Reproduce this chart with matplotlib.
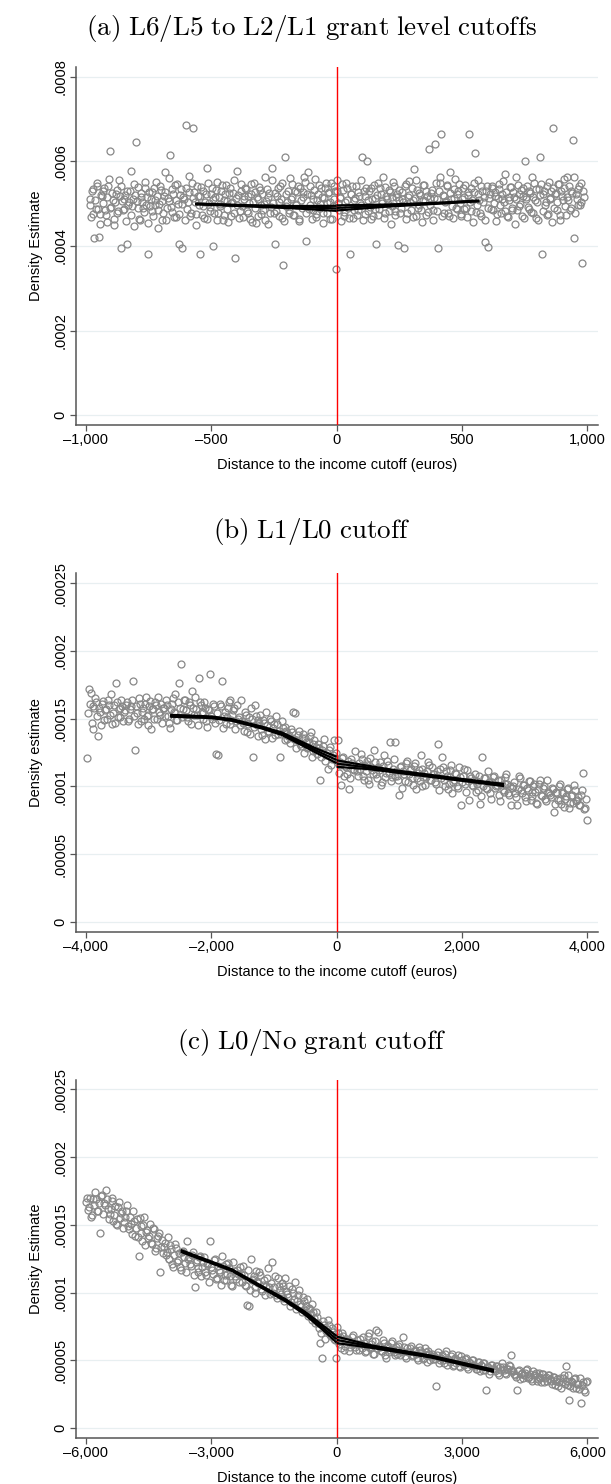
import matplotlib.pyplot as plt
import numpy as np

plt.rcParams['font.family'] = ['Liberation Sans', 'DejaVu Sans']
plt.rcParams['mathtext.fontset'] = 'cm'

# Histogram points are read off the figure as two interleaved lists:
# *_even are bins 0,2,4,... and *_odd the bins in between (1,3,5,...).

# ---- (a) L6/L5 .. L2/L1 cutoffs: bin centres -985..985 euros, density x1e-6
a_bins = (-985, 985)
a_dens_even = [
    512, 468, 535, 418, 488, 548, 422, 476, 519, 530, 485, 457, 541, 625, 492, 508, 463, 524, 479, 555,
    395, 506, 487, 520, 405, 498, 531, 474, 512, 546, 645, 490, 463, 525, 503, 481, 538, 516, 380, 495,
    527, 470, 508, 551, 486, 499, 533, 462, 518, 574, 491, 507, 615, 480, 522, 545, 468, 500, 405, 534,
    395, 512, 685, 488, 528, 470, 549, 680, 503, 476, 519, 380, 540, 494, 466, 523, 585, 501, 482, 537,
    400, 517, 552, 478, 495, 530, 461, 509, 544, 487, 526, 472, 503, 556, 372, 498, 521, 483, 547, 468,
    511, 535, 479, 502, 524, 457, 548, 490, 516, 470, 533, 498, 484, 562, 507, 451, 526, 493, 585, 478,
    405, 519, 503, 541, 467, 355, 610, 494, 529, 485, 512, 546, 473, 500, 527, 460, 538, 489, 515, 552,
    412, 575, 497, 521, 484, 533, 468, 509, 545, 490, 516, 477, 538, 502, 526, 463, 549, 495, 512, 345,
    529, 486, 513, 547, 472, 505, 538, 491, 380, 522, 466, 509, 543, 484, 518, 497, 610, 531, 475, 600,
    508, 492, 536, 470, 514, 405, 548, 487, 523, 501, 466, 539, 510, 483, 527, 495, 552, 474, 517, 402,
    532, 489, 511, 395, 546, 478, 520, 503, 538, 468, 514, 557, 491, 526, 484, 509, 544, 473, 519, 630,
    498, 533, 486, 640, 512, 395, 548, 665, 521, 479, 506, 541, 470, 525, 494, 513, 558, 487, 530, 502,
    471, 536, 515, 490, 527, 665, 483, 509, 550, 620, 496, 522, 478, 541, 505, 410, 529, 398, 514, 488,
    543, 502, 519, 475, 535, 496, 511, 553, 482, 527, 469, 508, 540, 491, 517, 563, 486, 524, 500, 472,
    538, 600, 510, 493, 529, 481, 515, 548, 467, 505, 535, 610, 380, 522, 497, 541, 476, 513, 530, 680,
    489, 526, 504, 547, 473, 518, 536, 495, 562, 509, 484, 531, 650, 418, 522, 498, 543, 505, 360, 517,
]
a_dens_odd = [
    497, 531, 476, 509, 543, 488, 452, 520, 501, 537, 473, 515, 558, 491, 526, 449, 504, 533, 482, 518,
    541, 486, 512, 458, 529, 503, 577, 494, 448, 521, 507, 539, 462, 515, 489, 552, 498, 454, 527, 510,
    483, 536, 497, 519, 442, 541, 506, 478, 528, 461, 514, 560, 493, 535, 468, 509, 546, 475, 521, 499,
    517, 462, 538, 503, 566, 479, 514, 527, 450, 542, 497, 518, 473, 531, 505, 464, 550, 492, 524, 511,
    478, 532, 461, 516, 499, 545, 473, 522, 506, 457, 537, 501, 526, 478, 513, 578, 466, 530, 495, 519,
    536, 482, 518, 465, 547, 503, 528, 454, 511, 540, 476, 523, 499, 461, 534, 515, 478, 556, 502, 526,
    483, 537, 471, 512, 548, 460, 524, 505, 479, 560, 517, 473, 531, 496, 542, 465, 509, 528, 563, 477,
    524, 488, 543, 463, 511, 559, 476, 522, 500, 537, 455, 514, 550, 478, 527, 505, 465, 541, 531, 556,
    501, 517, 458, 532, 480, 549, 508, 466, 523, 541, 485, 513, 474, 528, 502, 557, 461, 519, 538, 482,
    529, 464, 512, 545, 487, 521, 473, 537, 506, 562, 478, 519, 500, 533, 451, 516, 542, 482, 524, 508,
    477, 527, 503, 541, 464, 516, 553, 485, 509, 583, 470, 532, 498, 521, 456, 545, 507, 529, 480, 514,
    526, 461, 513, 548, 483, 530, 562, 472, 519, 505, 544, 478, 575, 510, 466, 535, 489, 523, 547, 475,
    512, 487, 544, 468, 520, 503, 537, 456, 528, 481, 557, 509, 472, 530, 515, 461, 543, 490, 524, 536,
    485, 528, 460, 513, 547, 478, 524, 503, 571, 472, 516, 539, 484, 527, 451, 511, 545, 495, 532, 519,
    467, 516, 542, 488, 525, 563, 477, 509, 534, 462, 520, 547, 483, 529, 505, 473, 552, 511, 456, 538,
    522, 485, 547, 461, 530, 508, 559, 474, 517, 541, 489, 526, 563, 479, 512, 534, 497, 548, 529,
]
a_scale = 1e-6
# local polynomial fit, left and right of the cutoff (x1e-6), with CI half-width
a_left_x = [-564, -350, -166, 0]
a_left_est = [499.5, 495.0, 491.7, 489.0]
a_left_ci = [1.0, 1.5, 2.8, 6.0]
a_right_x = [0, 200, 400, 569]
a_right_est = [490.0, 495.5, 501.0, 506.6]
a_right_ci = [6.0, 2.5, 1.2, 1.0]

# ---- (b) L1/L0 cutoff: bin centres -3985..3985 euros, density x1e-7
b_bins = (-3985, 3985)
b_dens_even = [
    1210, 1720, 1690, 1420, 1580, 1620, 1370, 1550, 1610, 1490, 1570, 1640, 1530, 1460, 1600, 1760, 1510, 1580, 1640, 1480,
    1560, 1620, 1500, 1590, 1780, 1270, 1540, 1650, 1480, 1580, 1610, 1520, 1450, 1630, 1570, 1500, 1600, 1660, 1530, 1470,
    1580, 1640, 1520, 1430, 1610, 1550, 1680, 1490, 1760, 1900, 1570, 1640, 1510, 1620, 1460, 1580, 1660, 1530, 1800, 1600,
    1540, 1620, 1480, 1570, 1830, 1500, 1590, 1240, 1230, 1610, 1780, 1520, 1460, 1580, 1640, 1490, 1560, 1420, 1600, 1510,
    1640, 1470, 1550, 1400, 1510, 1580, 1220, 1600, 1450, 1490, 1530, 1380, 1470, 1550, 1410, 1500, 1360, 1460, 1520, 1390,
    1220, 1480, 1400, 1440, 1350, 1380, 1420, 1550, 1545, 1340, 1410, 1300, 1390, 1360, 1280, 1330, 1400, 1260, 1340, 1290,
    1310, 1050, 1270, 1350, 1230, 1130, 1290, 1200, 1340, 1250, 1340, 1180, 1010, 1220, 1150, 1090, 980, 1200, 1130, 1260,
    1110, 1170, 1240, 1080, 1150, 1190, 1050, 1210, 1120, 1270, 1090, 1140, 1180, 1030, 1230, 1100, 1160, 1330, 1070, 1200,
    1330, 1080, 935, 1150, 1110, 1040, 1190, 1090, 1130, 1010, 1170, 1060, 1120, 1230, 1000, 1100, 1070, 1180, 1050, 1140,
    1090, 1020, 1310, 1130, 1220, 1050, 1110, 980, 1070, 1160, 1030, 1100, 1000, 1140, 860, 1080, 1020, 1120, 900, 1060,
    1000, 1090, 1040, 970, 870, 1220, 1060, 990, 1110, 950, 1030, 1080, 1000, 1050, 895, 1010, 960, 1070, 1020, 940,
    860, 1000, 950, 860, 1080, 970, 1010, 920, 990, 1040, 900, 960, 1020, 880, 980, 1050, 930, 1000, 890, 960,
    940, 990, 810, 960, 900, 1020, 870, 950, 910, 980, 840, 930, 880, 970, 900, 860, 940, 1100, 840, 750,
]
b_dens_odd = [
    1540, 1610, 1470, 1590, 1650, 1520, 1580, 1450, 1630, 1560, 1500, 1600, 1680, 1540, 1470, 1620, 1570, 1510, 1590, 1550,
    1600, 1480, 1570, 1640, 1520, 1590, 1460, 1610, 1550, 1500, 1660, 1530, 1590, 1420, 1570, 1620, 1500, 1550, 1610, 1580,
    1520, 1600, 1470, 1570, 1650, 1540, 1490, 1620, 1580, 1510, 1640, 1560, 1480, 1600, 1700, 1530, 1570, 1450, 1620, 1550,
    1500, 1580, 1440, 1560, 1520, 1610, 1470, 1540, 1490, 1590, 1430, 1550, 1510, 1620, 1460, 1530, 1580, 1480, 1500, 1450,
    1480, 1410, 1530, 1460, 1390, 1500, 1440, 1520, 1370, 1470, 1420, 1490, 1350, 1450, 1400, 1480, 1430, 1380, 1460, 1410,
    1390, 1430, 1340, 1410, 1370, 1320, 1400, 1350, 1280, 1380, 1310, 1360, 1250, 1330, 1290, 1370, 1220, 1310, 1270, 1240,
    1280, 1220, 1300, 1190, 1250, 1270, 1160, 1230, 1210, 1180, 1100, 1160, 1210, 1080, 1140, 1190, 1060, 1170, 1120, 1150,
    1080, 1130, 1200, 1050, 1110, 1160, 1020, 1140, 1090, 1180, 1060, 1120, 1010, 1150, 1070, 1190, 1100, 1040, 1130, 1080,
    1110, 1050, 1140, 990, 1090, 1170, 1030, 1120, 1060, 1150, 980, 1100, 1040, 1130, 1070, 1010, 1110, 1160, 1050, 1090,
    1030, 1110, 970, 1060, 1140, 1000, 1080, 1020, 1120, 950, 1050, 1090, 990, 1070, 1030, 1130, 960, 1040, 1080, 1010,
    1050, 960, 1020, 1080, 930, 1000, 1060, 980, 1030, 910, 1070, 990, 1010, 940, 1050, 970, 1020, 1090, 950, 1000,
    990, 1030, 920, 980, 1060, 950, 1010, 890, 970, 1040, 930, 1000, 960, 870, 1020, 940, 990, 910, 1050, 950,
    920, 980, 870, 950, 1000, 900, 960, 850, 930, 990, 880, 940, 1010, 890, 920, 860, 970, 830, 910,
]
b_scale = 1e-7
b_left_x = [-2655, -2000, -1672, -1200, -875, -345, 0]
b_left_est = [1521, 1510, 1490, 1435, 1389, 1268, 1195]
b_left_ci = [7, 6, 6, 7, 9, 15, 24]
b_right_x = [0, 500, 980, 2000, 2670]
b_right_est = [1168, 1140, 1108, 1048, 1010]
b_right_ci = [24, 12, 8, 7, 8]

# ---- (c) L0/No grant cutoff: bin centres -5985..5985 euros, density x1e-7
c_bins = (-5985, 5985)
c_dens_even = [
    1670, 1610, 1700, 1570, 1650, 1690, 1600, 1440, 1720, 1660, 1760, 1620, 1580, 1700, 1530, 1640, 1500, 1670, 1590, 1480,
    1560, 1650, 1470, 1510, 1600, 1420, 1540, 1270, 1490, 1380, 1560, 1450, 1400, 1510, 1360, 1470, 1330, 1420, 1150, 1390,
    1340, 1280, 1410, 1250, 1320, 1190, 1360, 1230, 1290, 1170, 1310, 1220, 1380, 1260, 1200, 1300, 1040, 1240, 1150, 1270,
    1190, 1260, 1130, 1220, 1380, 1170, 1240, 1100, 1200, 1150, 1270, 1090, 1210, 1140, 1180, 1060, 1230, 1120, 1170, 1080,
    1140, 1200, 1060, 910, 900, 1250, 1100, 1040, 1160, 1070, 1130, 1010, 1090, 1050, 1180, 990, 1230, 1040, 980, 1110,
    1020, 1070, 960, 1110, 990, 1050, 930, 1000, 1080, 940, 1020, 900, 970, 870, 950, 890, 840, 920, 810, 860,
    780, 630, 520, 760, 720, 800, 690, 740, 660, 520, 700, 640, 590, 680, 610, 660, 570, 630, 690, 600,
    650, 580, 620, 670, 560, 610, 700, 590, 640, 550, 725, 710, 600, 570, 630, 520, 610, 580, 640, 560,
    600, 550, 620, 570, 676, 530, 590, 560, 610, 540, 580, 520, 600, 560, 510, 590, 540, 570, 500, 550,
    530, 314, 560, 500, 540, 480, 570, 510, 490, 550, 470, 520, 500, 460, 530, 480, 510, 450, 490, 470,
    500, 460, 440, 490, 470, 430, 480, 285, 450, 420, 470, 440, 460, 410, 450, 480, 430, 400, 440, 460,
    543, 420, 390, 280, 430, 400, 370, 410, 440, 380, 360, 420, 390, 350, 410, 370, 400, 340, 380, 390,
    360, 330, 380, 350, 310, 370, 340, 390, 462, 320, 211, 350, 300, 370, 330, 290, 187, 340, 267, 350,
]
c_dens_odd = [
    1700, 1630, 1560, 1690, 1740, 1600, 1660, 1710, 1580, 1650, 1690, 1540, 1620, 1680, 1570, 1510, 1630, 1550, 1600, 1520,
    1600, 1490, 1560, 1430, 1530, 1480, 1410, 1550, 1440, 1500, 1350, 1460, 1420, 1370, 1480, 1310, 1400, 1440, 1340, 1290,
    1370, 1300, 1250, 1350, 1210, 1280, 1330, 1240, 1190, 1300, 1260, 1150, 1250, 1210, 1280, 1130, 1230, 1180, 1260, 1120,
    1230, 1150, 1210, 1080, 1190, 1140, 1250, 1110, 1170, 1060, 1200, 1130, 1090, 1220, 1120, 1050, 1160, 1100, 1140, 1190,
    1080, 1130, 1050, 1170, 1020, 1090, 1120, 1000, 1080, 1150, 1030, 1060, 980, 1110, 1040, 1070, 1000, 1120, 960, 1050,
    990, 1050, 940, 1010, 970, 900, 1030, 950, 880, 980, 920, 860, 940, 900, 830, 880, 800, 860, 780, 820,
    740, 700, 790, 660, 730, 760, 680, 710, 650, 750, 620, 670, 700, 580, 640, 650, 600, 670, 620, 580,
    620, 660, 590, 630, 570, 680, 600, 620, 550, 640, 590, 610, 570, 650, 540, 600, 560, 630, 580, 540,
    580, 610, 540, 570, 600, 520, 560, 590, 530, 570, 550, 500, 580, 540, 520, 560, 490, 550, 530, 510,
    510, 540, 480, 520, 500, 550, 470, 500, 530, 460, 510, 480, 540, 450, 500, 470, 520, 440, 480, 500,
    470, 440, 490, 420, 460, 480, 430, 450, 400, 470, 440, 420, 460, 390, 430, 450, 410, 440, 470, 420,
    430, 400, 380, 420, 360, 410, 390, 430, 370, 400, 350, 390, 410, 360, 380, 340, 400, 370, 350, 390,
    350, 380, 320, 360, 340, 300, 370, 330, 350, 390, 310, 340, 360, 300, 330, 370, 320, 280, 340,
]
c_scale = 1e-7
c_left_x = [-3727, -2508, -1234, -755, -357, 0]
c_left_est = [1308, 1167, 946, 848, 749, 656]
c_left_ci = [7, 6, 8, 11, 16, 24]
c_right_x = [0, 838, 2273, 3763]
c_right_est = [652, 602, 528, 423]
c_right_ci = [24, 9, 7, 8]

titles = [
    r'$\mathrm{(a)\ L6/L5\ to\ L2/L1\ grant\ level\ cutoffs}$',
    r'$\mathrm{(b)\ L1/L0\ cutoff}$',
    r'$\mathrm{(c)\ L0/No\ grant\ cutoff}$',
]
ylabels = ['Density Estimate', 'Density estimate', 'Density Estimate']
xlabel = 'Distance to the income cutoff (euros)'

a_xticks = [-1000, -500, 0, 500, 1000]
a_xticklabels = ['\u20131,000', '\u2013500', '0', '500', '1,000']
b_xticks = [-4000, -2000, 0, 2000, 4000]
b_xticklabels = ['\u20134,000', '\u20132,000', '0', '2,000', '4,000']
c_xticks = [-6000, -3000, 0, 3000, 6000]
c_xticklabels = ['\u20136,000', '\u20133,000', '0', '3,000', '6,000']
a_yticks = [0, 0.0002, 0.0004, 0.0006, 0.0008]
a_yticklabels = ['0', '.0002', '.0004', '.0006', '.0008']
bc_yticks = [0, 0.00005, 0.0001, 0.00015, 0.0002, 0.00025]
bc_yticklabels = ['0', '.00005', '.0001', '.00015', '.0002', '.00025']

W, H = 611, 1484
GRID = '#e8eff1'
AXIS = '#555555'


def interleave(even, odd):
    full = np.empty(len(even) + len(odd))
    full[0::2] = even
    full[1::2] = odd
    return full


def draw_panel(ax, bins, dens, scale, fits, xticks, xticklabels,
               yticks, yticklabels, xlim, ylim, ylabel):
    xs = np.linspace(bins[0], bins[1], len(dens))
    ys = np.asarray(dens, dtype=float) * scale
    for y in yticks:
        ax.axhline(y, color=GRID, lw=0.9, zorder=0)
    ax.plot(xs, ys, ls='none', marker='o', ms=5.0, mfc='none',
            mec='#888888', mew=0.9, zorder=2)
    ax.axvline(0, color='#ff0000', lw=1.0, zorder=3)
    for fx, fy, fci in fits:
        fy = np.asarray(fy, dtype=float)
        fci = np.asarray(fci, dtype=float)
        for k in (-1, 0, 1):
            ax.plot(fx, (fy + k * fci) * scale, color='black', lw=1.6,
                    solid_capstyle='butt', zorder=4)
    ax.set_xlim(*xlim)
    ax.set_ylim(*ylim)
    ax.set_xticks(xticks)
    ax.set_xticklabels(xticklabels)
    ax.set_yticks(yticks)
    ax.set_yticklabels(yticklabels, rotation=90, va='center')
    for s in ('top', 'right'):
        ax.spines[s].set_visible(False)
    for s in ('left', 'bottom'):
        ax.spines[s].set_color(AXIS)
        ax.spines[s].set_linewidth(1.1)
    ax.tick_params(length=4, width=0.9, color=AXIS, labelsize=10.5, pad=2)
    ax.set_xlabel(xlabel, fontsize=10.5, labelpad=8)
    ax.set_ylabel(ylabel, fontsize=10.5, labelpad=8)


fig = plt.figure(figsize=(W / 100, H / 100), dpi=100)

# axes boxes in pixels: (top, bottom)
boxes = [(67, 425), (573, 932), (1080, 1438)]
left_px, right_px = 76, 598
title_y = [28, 532, 1042]

panels = [
    (a_bins, interleave(a_dens_even, a_dens_odd), a_scale,
     [(a_left_x, a_left_est, a_left_ci), (a_right_x, a_right_est, a_right_ci)],
     a_xticks, a_xticklabels, a_yticks, a_yticklabels,
     (-1039, 1042), (-0.0000229, 0.000823)),
    (b_bins, interleave(b_dens_even, b_dens_odd), b_scale,
     [(b_left_x, b_left_est, b_left_ci), (b_right_x, b_right_est, b_right_ci)],
     b_xticks, b_xticklabels, bc_yticks, bc_yticklabels,
     (-4156, 4168), (-0.0000074, 0.0002574)),
    (c_bins, interleave(c_dens_even, c_dens_odd), c_scale,
     [(c_left_x, c_left_est, c_left_ci), (c_right_x, c_right_est, c_right_ci)],
     c_xticks, c_xticklabels, bc_yticks, bc_yticklabels,
     (-6234, 6252), (-0.0000072, 0.0002569)),
]

for i, p in enumerate(panels):
    top, bot = boxes[i]
    ax = fig.add_axes([left_px / W, 1 - bot / H,
                       (right_px - left_px) / W, (bot - top) / H])
    draw_panel(ax, *p, ylabel=ylabels[i])
    fig.text(0.51, 1 - title_y[i] / H, titles[i], fontsize=19.5,
             ha='center', va='center')

fig.savefig('out.png', dpi=100)
